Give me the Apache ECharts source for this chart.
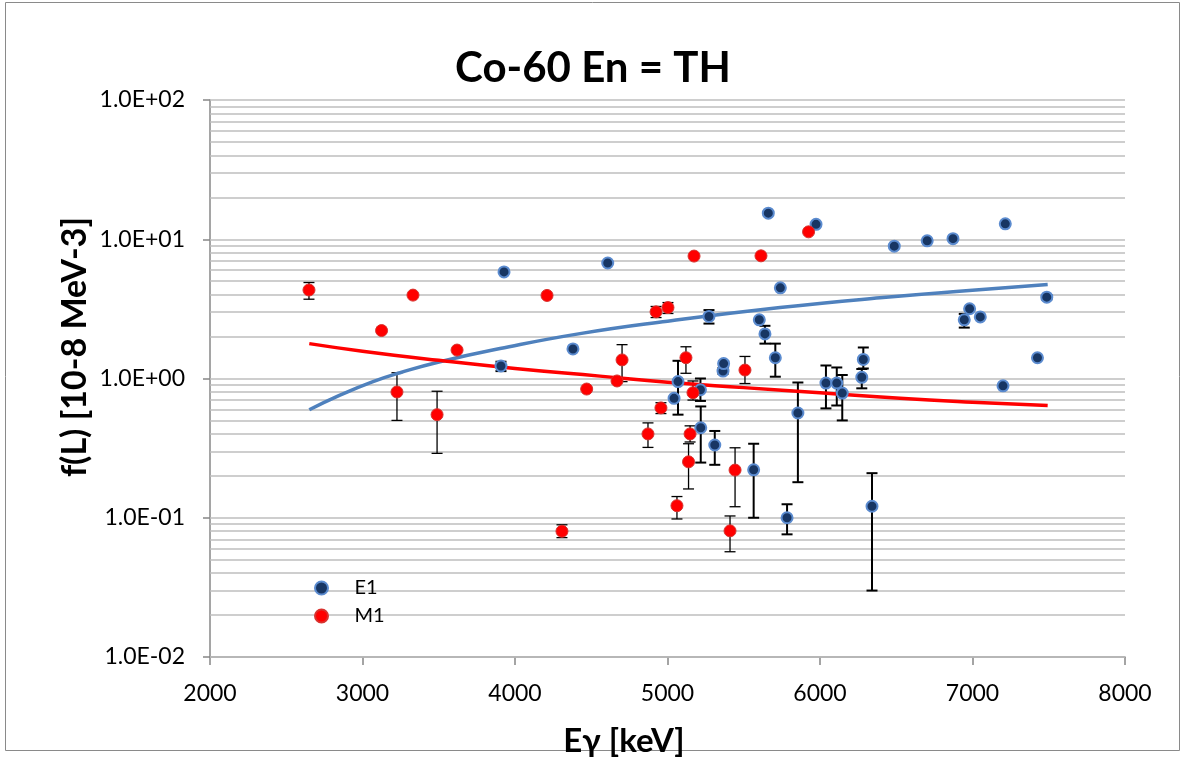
<!DOCTYPE html>
<html><head><meta charset="utf-8">
<script src="https://cdn.jsdelivr.net/npm/echarts@6/dist/echarts.min.js"></script>
<style>html,body{margin:0;padding:0;background:#fff}#c{width:1186px;height:760px}</style>
</head><body><div id="c"></div>
<script>
const titleText = 'Co-60 En = TH';
const xName = 'Eγ [keV]';
const yName = 'f(L) [10-8 MeV-3]';
const seriesNames = ['E1', 'M1'];

// E1 measured points (keV, value) with error limits (null = no bar)
const e1Energy = [3908, 3928, 4380, 4608, 5043, 5069, 5216, 5218, 5272, 5310, 5364, 5368, 5565, 5602, 5639, 5661, 5707, 5740, 5784, 5855, 5974, 6039, 6110, 6146, 6274, 6284, 6341, 6487, 6703, 6872, 6946, 6981, 7051, 7200, 7215, 7426, 7487];
const e1Value  = [1.23, 5.83, 1.63, 6.75, 0.72, 0.95, 0.83, 0.443, 2.79, 0.333, 1.13, 1.28, 0.221, 2.64, 2.09, 15.4, 1.41, 4.48, 0.100, 0.565, 12.8, 0.927, 0.927, 0.786, 1.02, 1.37, 0.121, 8.92, 9.75, 10.1, 2.64, 3.17, 2.77, 0.886, 12.9, 1.41, 3.84];
const e1ErrLow = [1.13, null, null, null, null, 0.55, 0.69, 0.249, 2.48, 0.24, 1.08, 1.22, 0.100, null, 1.78, null, 1.03, null, 0.076, 0.18, null, 0.61, 0.64, 0.50, 0.85, 1.18, 0.030, null, null, null, 2.32, null, null, null, null, null, 3.70];
const e1ErrHigh= [1.32, null, null, null, null, 1.34, 1.00, 0.63, 3.10, 0.42, 1.19, 1.33, 0.34, null, 2.39, null, 1.78, null, 0.125, 0.936, null, 1.24, 1.20, 1.06, 1.17, 1.67, 0.209, null, null, null, 2.91, null, null, null, null, null, 3.98];

// M1 measured points
const m1Energy = [2649, 3125, 3226, 3331, 3489, 3620, 4210, 4308, 4470, 4669, 4702, 4872, 4925, 4957, 5003, 5062, 5121, 5138, 5148, 5167, 5174, 5410, 5443, 5508, 5613, 5925];
const m1Value  = [4.32, 2.21, 0.80, 3.97, 0.55, 1.60, 3.95, 0.080, 0.84, 0.96, 1.36, 0.40, 3.01, 0.615, 3.23, 0.122, 1.41, 0.252, 0.40, 0.79, 7.57, 0.0805, 0.22, 1.15, 7.6, 11.3];
const m1ErrLow = [3.71, null, 0.50, null, 0.29, null, null, 0.072, null, null, 0.95, 0.32, 2.74, 0.56, 2.93, 0.098, 1.09, 0.161, 0.35, 0.70, null, 0.057, 0.12, 0.92, null, null];
const m1ErrHigh= [4.89, null, 1.10, null, 0.81, null, null, 0.089, null, null, 1.75, 0.48, 3.29, 0.67, 3.51, 0.142, 1.69, 0.34, 0.457, 0.96, null, 0.103, 0.318, 1.44, null, null];

// trend lines
const e1TrendEnergy = [2651, 2852, 3069, 3246, 3508, 3902, 4426, 5000, 5738, 6393, 7000, 7493];
const e1TrendValue  = [0.596, 0.76, 0.95, 1.10, 1.32, 1.64, 2.10, 2.58, 3.23, 3.80, 4.30, 4.73];
const m1TrendEnergy = [2651, 3000, 3500, 4000, 4557, 5000, 5500, 6000, 6525, 7000, 7493];
const m1TrendValue  = [1.78, 1.57, 1.35, 1.18, 1.04, 0.94, 0.86, 0.79, 0.72, 0.675, 0.64];

// horizontal gridline levels (log axis: 1..9 per decade)
const gridMantissas = [1, 2, 3, 4, 5, 6, 7, 8, 9];
const gridDecades = [0.01, 0.1, 1, 10];
const gridTop = 100;

const gridValues = [];
gridDecades.forEach(d => gridMantissas.forEach(m => gridValues.push(+(m * d).toPrecision(3))));
gridValues.push(gridTop);

function pts(xs, ys) { return xs.map((x, i) => [x, ys[i]]); }
function errs(xs, lo, hi) {
  const out = [];
  xs.forEach((x, i) => { if (lo[i] != null && hi[i] != null) out.push([x, lo[i], hi[i]]); });
  return out;
}
function errRender(width) {
  return function (params, api) {
    const x = api.value(0);
    const pLo = api.coord([x, api.value(1)]);
    const pHi = api.coord([x, api.value(2)]);
    const cap = 5.5;
    const style = { stroke: '#000', lineWidth: width };
    return {
      type: 'group', children: [
        { type: 'line', shape: { x1: pLo[0], y1: pLo[1], x2: pHi[0], y2: pHi[1] }, style: style },
        { type: 'line', shape: { x1: pLo[0] - cap, y1: pLo[1], x2: pLo[0] + cap, y2: pLo[1] }, style: style },
        { type: 'line', shape: { x1: pHi[0] - cap, y1: pHi[1], x2: pHi[0] + cap, y2: pHi[1] }, style: style }
      ]
    };
  };
}
function expLabel(v) {
  const e = Math.round(Math.log10(v));
  return '1.0E' + (e < 0 ? '-' : '+') + String(Math.abs(e)).padStart(2, '0');
}

const FONT = 'Lato, "Open Sans", sans-serif';
const chart = echarts.init(document.getElementById('c'), null, { renderer: 'canvas' });
chart.setOption({
  animation: false,
  backgroundColor: '#fff',
  title: { text: titleText, left: 'center', top: 42,
    textStyle: { fontFamily: FONT, fontWeight: 'bold', fontSize: 42, color: '#000' } },
  graphic: [
    { type: 'rect', shape: { x: 5.5, y: 2.5, width: 1174, height: 748 }, style: { fill: 'none', stroke: '#8a8a8a', lineWidth: 1 }, z: -1 },
    { type: 'text', x: 75, y: 347, rotation: Math.PI / 2,
      style: { text: yName, font: 'bold 34px ' + FONT, fill: '#000', align: 'center', verticalAlign: 'middle' } },
    { type: 'text', x: 624, y: 741,
      style: { text: xName, font: 'bold 33px ' + FONT, fill: '#000', align: 'center', verticalAlign: 'middle' } }
  ],
  legend: {
    data: seriesNames, orient: 'vertical', left: 309, top: 573,
    itemWidth: 56, itemHeight: 13, itemGap: 8,
    textStyle: { fontFamily: FONT, fontSize: 20, color: '#000' }
  },
  grid: { left: 210, right: 61, top: 100, bottom: 103 },
  xAxis: {
    type: 'value', min: 2000, max: 8000, interval: 1000,
    axisLine: { lineStyle: { color: '#878787', width: 1.5 } },
    axisTick: { show: true, length: 8, lineStyle: { color: '#878787', width: 1.5 } },
    axisLabel: { fontFamily: FONT, fontSize: 23, color: '#000', margin: 25, formatter: v => String(v) },
    splitLine: { show: false }
  },
  yAxis: {
    type: 'log', logBase: 10, min: 0.01, max: 100,
    axisLine: { show: true, lineStyle: { color: '#878787', width: 1.5 } },
    axisTick: { show: true, length: 7, lineStyle: { color: '#878787', width: 1.5 } },
    axisLabel: { fontFamily: FONT, fontSize: 23, color: '#000', margin: 25, formatter: expLabel },
    splitLine: { show: false }, minorTick: { show: false }, minorSplitLine: { show: false }
  },
  series: [
    { name: 'grid', type: 'line', data: [], z: 1, silent: true,
      markLine: { z: 1, silent: true, symbol: ['none', 'none'], label: { show: false },
        lineStyle: { color: '#bebebe', width: 1.6, type: 'solid' },
        emphasis: { disabled: true },
        data: gridValues.map(v => ({ yAxis: v })) } },
    { name: 'E1 err', type: 'custom', renderItem: errRender(2), data: errs(e1Energy, e1ErrLow, e1ErrHigh),
      encode: { x: 0, y: [1, 2] }, z: 2, silent: true },
    { name: 'M1 err', type: 'custom', renderItem: errRender(1.3), data: errs(m1Energy, m1ErrLow, m1ErrHigh),
      encode: { x: 0, y: [1, 2] }, z: 2, silent: true },
    { name: 'E1 trend', type: 'line', data: pts(e1TrendEnergy, e1TrendValue), smooth: true, showSymbol: false,
      lineStyle: { color: '#4f81bd', width: 3.5 }, z: 3, silent: true },
    { name: 'M1 trend', type: 'line', data: pts(m1TrendEnergy, m1TrendValue), smooth: true, showSymbol: false,
      lineStyle: { color: '#ff0000', width: 3.5 }, z: 3, silent: true },
    { name: 'E1', type: 'scatter', data: pts(e1Energy, e1Value), symbol: 'circle', symbolSize: 11, z: 4,
      itemStyle: { color: '#183663', borderColor: '#5b8bcf', borderWidth: 2, opacity: 1 } },
    { name: 'M1', type: 'scatter', data: pts(m1Energy, m1Value), symbol: 'circle', symbolSize: 12, z: 5,
      itemStyle: { color: '#ff0000', borderColor: '#d8322e', borderWidth: 1, opacity: 1 } }
  ]
});
</script></body></html>
